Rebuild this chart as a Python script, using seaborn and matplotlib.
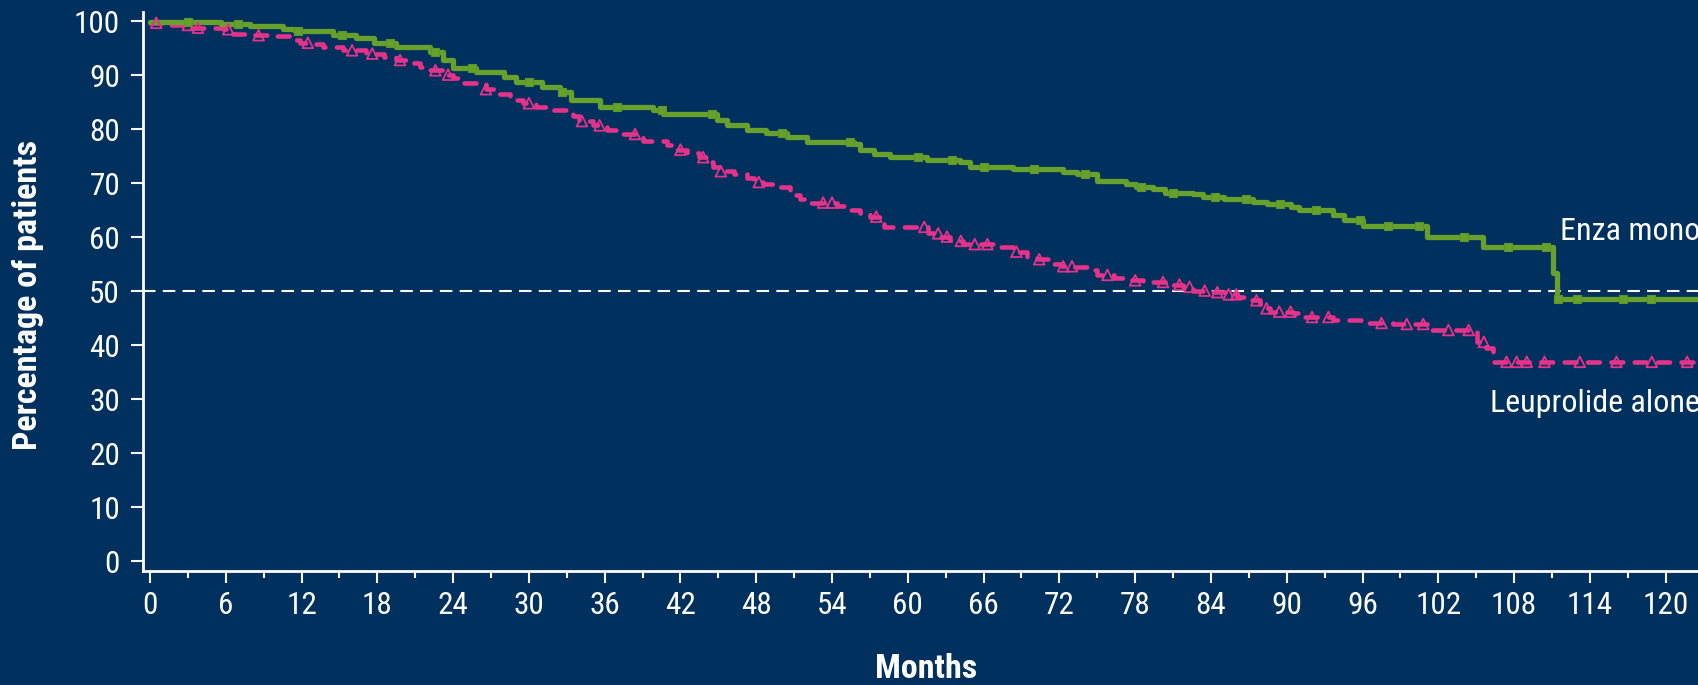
import numpy as np
import pandas as pd
import matplotlib
matplotlib.use("Agg")
import matplotlib.pyplot as plt
from matplotlib import font_manager as fm
from matplotlib.ticker import MultipleLocator
import seaborn as sns

# Kaplan-Meier step estimates (months, % of patients without event)
enza_time = [0, 5.6, 7.9, 10.5, 11.5, 14.5, 16.3, 17.7, 19.5, 22.2, 23.2, 24.0,
             25.8, 28.0, 29.0, 31.0, 32.5, 33.3, 35.6, 39.8, 40.6, 44.9, 45.7,
             47.3, 48.8, 50.4, 52.0, 55.7, 56.2, 57.3, 58.6, 61.5, 64.1, 64.9,
             68.3, 72.3, 73.4, 75.0, 77.3, 78.1, 79.4, 80.4, 82.6, 83.4, 85.0,
             87.3, 88.4, 90.3, 91.0, 93.7, 94.5, 96.0, 101.1, 105.5, 111.1,
             111.4, 125.0]
enza_surv = [99.8, 99.4, 99.1, 98.5, 98.2, 97.4, 96.8, 95.9, 95.2, 94.3, 92.8,
             91.3, 90.6, 89.7, 88.8, 87.8, 86.8, 85.4, 84.1, 83.5, 82.8, 81.7,
             80.7, 79.8, 79.3, 78.6, 77.7, 77.3, 76.1, 75.4, 74.8, 74.3, 73.9,
             73.0, 72.7, 72.1, 71.6, 70.4, 69.9, 69.3, 68.9, 68.2, 68.0, 67.5,
             67.0, 66.5, 66.2, 65.6, 65.0, 64.1, 63.1, 62.0, 60.1, 58.2, 53.3,
             48.6, 48.6]

leup_time = [0, 1.0, 3.2, 5.8, 6.6, 8.2, 10.0, 11.1, 11.9, 12.9, 13.7, 15.3,
             17.1, 18.5, 19.5, 20.6, 21.4, 22.2, 23.2, 24.0, 24.8, 26.6, 27.4,
             28.5, 29.5, 30.6, 31.7, 33.5, 34.0, 35.1, 36.2, 37.0, 38.6, 39.0,
             40.9, 41.7, 42.5, 43.5, 44.1, 44.6, 45.1, 46.2, 47.3, 47.8, 48.5,
             49.6, 50.7, 50.9, 51.5, 52.3, 54.4, 55.4, 56.2, 57.0, 57.8, 58.1,
             61.6, 62.5, 63.3, 64.4, 67.3, 68.3, 69.4, 70.2, 71.3, 72.1, 73.1,
             74.2, 75.0, 76.3, 77.3, 78.6, 80.8, 81.8, 82.6, 84.2, 85.3, 86.1,
             86.9, 87.9, 88.1, 88.7, 90.5, 91.0, 93.7, 96.0, 98.4, 101.1, 105.1,
             105.8, 106.3, 125.0]
leup_surv = [99.7, 99.3, 98.8, 98.5, 97.7, 97.4, 97.2, 96.5, 96.0, 95.7, 95.2,
             94.6, 94.0, 93.4, 92.8, 92.2, 91.5, 90.9, 90.1, 89.4, 88.5, 87.4,
             86.6, 85.4, 84.8, 84.1, 83.6, 82.4, 81.5, 80.7, 79.8, 79.1, 78.5,
             77.8, 77.0, 76.2, 75.5, 74.8, 73.9, 73.0, 72.2, 71.6, 70.9, 70.2,
             69.8, 69.3, 68.8, 67.8, 67.0, 66.4, 65.8, 65.1, 64.4, 63.8, 62.8,
             61.9, 60.7, 60.1, 59.3, 58.7, 58.1, 57.3, 56.4, 55.9, 55.1, 54.6,
             54.4, 53.9, 53.0, 52.5, 52.0, 51.7, 51.2, 50.8, 50.1, 49.8, 49.4,
             48.9, 48.3, 47.7, 46.8, 46.2, 45.9, 45.2, 44.6, 44.1, 43.9, 42.8,
             40.6, 39.4, 36.9, 36.9]

# Censoring times (months)
enza_censor = [3, 7, 11.7, 15.2, 19, 22.6, 25.5, 30, 32.6, 37, 40.5, 44.5, 50,
               55.4, 60.8, 63.5, 66, 70, 74, 78.5, 81, 84.3, 86.8, 89.5, 92.3,
               95.8, 98, 100.5, 104, 107.5, 110.5, 111.5, 113, 116.6, 118.8]
leup_censor = [0.5, 3, 3.8, 6.2, 8.6, 12.5, 16, 17.6, 19.8, 22.6, 23.6, 26.6,
               30, 34.2, 35.6, 38.4, 42, 43.8, 45.2, 48.2, 53.3, 54, 57.5, 61.3,
               62.4, 63.1, 64.2, 65.3, 66.3, 68.6, 70.4, 72.3, 73, 75.8, 78,
               80.2, 81.5, 82.3, 83.5, 84.5, 85.4, 86, 87.6, 88.4, 89.4, 90.3,
               92, 93.3, 97.5, 99.5, 100.8, 102.8, 104.4, 105.6, 107.4, 108.2,
               109, 110.4, 113.2, 116.1, 118.9, 121.7]

x_ticks = list(range(0, 121, 6))
y_ticks = list(range(0, 101, 10))

group_labels = ["Enza monotherapy", "Leuprolide alone"]

BG = "#00305E"
GREEN = "#67A02C"
PINK = "#E6338A"


def step_value(times, surv, t):
    idx = np.searchsorted(np.asarray(times), t, side="right") - 1
    return np.asarray(surv)[max(idx, 0)]


def pick_family(candidates):
    installed = {f.name for f in fm.fontManager.ttflist}
    for name in candidates:
        if name in installed:
            return name
    return "DejaVu Sans"


curves = pd.DataFrame({
    "Months": enza_time + leup_time,
    "Percent": enza_surv + leup_surv,
    "Arm": [group_labels[0]] * len(enza_time) + [group_labels[1]] * len(leup_time),
})
censors = pd.DataFrame({
    "Months": enza_censor + leup_censor,
    "Percent": [step_value(enza_time, enza_surv, t) for t in enza_censor]
    + [step_value(leup_time, leup_surv, t) for t in leup_censor],
    "Arm": [group_labels[0]] * len(enza_censor) + [group_labels[1]] * len(leup_censor),
})

sns.set_theme(style="ticks")
narrow = pick_family(["Liberation Sans Narrow", "Arial Narrow", "Roboto Condensed",
                      "Archivo Narrow", "Barlow Semi Condensed", "Liberation Sans"])
plt.rcParams["font.family"] = [narrow, "DejaVu Sans"]
plt.rcParams["text.color"] = "white"

fig = plt.figure(figsize=(16.99, 6.85), dpi=100, facecolor=BG)
ax = fig.add_axes([143 / 1699, 114 / 685, 1649 / 1699, 559 / 685])
ax.set_facecolor(BG)

# median reference line
ax.axhline(50, color="white", lw=1.5, dashes=(6, 3.5), zorder=1)

enza = curves[curves["Arm"] == group_labels[0]]
leup = curves[curves["Arm"] == group_labels[1]]

sns.lineplot(data=leup, x="Months", y="Percent", ax=ax, color=PINK, lw=3.3,
             drawstyle="steps-post", estimator=None, linestyle=(0, (2.6, 2.5)),
             dash_capstyle="round", zorder=3, legend=False)
sns.lineplot(data=enza, x="Months", y="Percent", ax=ax, color=GREEN, lw=3.8,
             drawstyle="steps-post", estimator=None, zorder=4, legend=False)

sns.scatterplot(data=censors[censors["Arm"] == group_labels[1]], x="Months",
                y="Percent", ax=ax, marker="^", s=60, facecolor="none",
                edgecolor=PINK, linewidth=1.3, zorder=5, legend=False)
sns.scatterplot(data=censors[censors["Arm"] == group_labels[0]], x="Months",
                y="Percent", ax=ax, marker="s", s=28, color=GREEN,
                edgecolor="#5C9628", linewidth=0.8, zorder=5, legend=False)

ax.text(111.6, 61.1, group_labels[0], color="white", fontsize=23,
        ha="left", va="center")
ax.text(106.1, 29.1, group_labels[1], color="white", fontsize=23,
        ha="left", va="center")

ax.set_xlim(-0.55, 130)
ax.set_ylim(-1.85, 101.7)
ax.set_xticks(x_ticks)
ax.set_yticks(y_ticks)
ax.xaxis.set_minor_locator(MultipleLocator(3))

for side in ("top", "right"):
    ax.spines[side].set_visible(False)
for side in ("left", "bottom"):
    ax.spines[side].set_color("white")
    ax.spines[side].set_linewidth(2.0)

ax.tick_params(axis="both", which="major", colors="white", labelcolor="white",
               labelsize=22.5, width=1.5, length=8.5, direction="out")
ax.tick_params(axis="x", which="minor", colors="white", width=1.5, length=5,
               direction="out")
ax.tick_params(axis="x", which="major", pad=6)
ax.tick_params(axis="y", which="major", pad=8)

ax.set_xlabel("Months", fontsize=24.5, fontweight="bold", color="white", va="center")
ax.set_ylabel("Percentage of patients", fontsize=24.5, fontweight="bold",
              color="white", va="center")
ax.xaxis.set_label_coords((926 - 143) / 1649, (571 - 669) / 559)
ax.yaxis.set_label_coords((28 - 143) / 1649, (571 - 295) / 559)

fig.savefig("out.png", dpi=100, facecolor=BG)
